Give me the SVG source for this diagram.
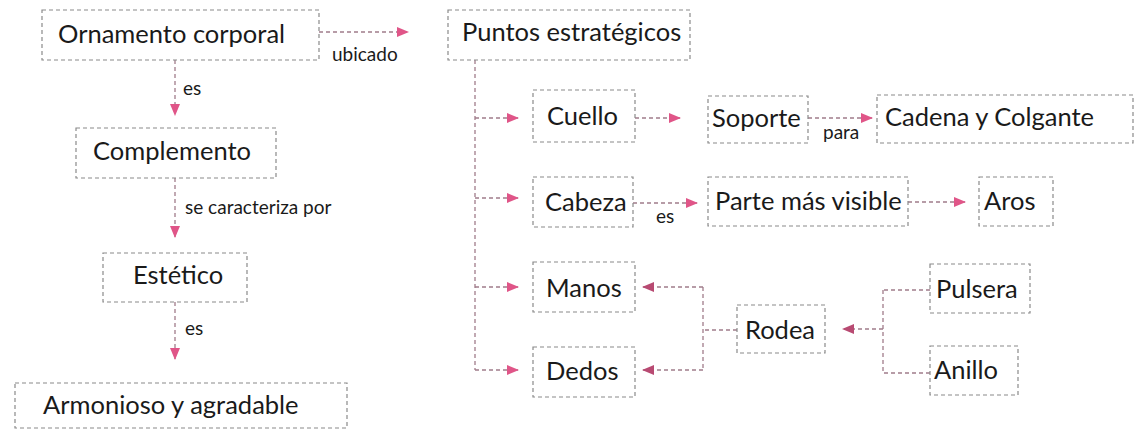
<svg xmlns="http://www.w3.org/2000/svg" width="1134" height="430" viewBox="0 0 1134 430">
<style>
.box{fill:none;stroke:#8a8a8a;stroke-width:1.2;stroke-dasharray:4 3}
.t{font-family:Lato,"Open Sans",sans-serif;font-size:25.5px;fill:#1a1a1a}
.s{font-family:Lato,"Open Sans",sans-serif;font-size:19px;fill:#1a1a1a}
.c{fill:none;stroke:#a07c8a;stroke-width:1.3;stroke-dasharray:4 3}
.ah{fill:#e05588}
.al{fill:#b84a72}
</style>
<defs>
<marker id="ar" markerWidth="12" markerHeight="10" refX="11" refY="5" orient="auto" markerUnits="userSpaceOnUse">
<path d="M0,0 L12,5 L0,10 Z" class="ah"/>
</marker>
<marker id="arl" markerWidth="12" markerHeight="10" refX="11" refY="5" orient="auto" markerUnits="userSpaceOnUse">
<path d="M0,0 L12,5 L0,10 Z" class="al"/>
</marker>
</defs>
<rect width="1134" height="430" fill="#ffffff"/>

<g id="connectors">
<path class="c" d="M319,32 H408" marker-end="url(#ar)"/>
<path class="c" d="M175,60 V115" marker-end="url(#ar)"/>
<path class="c" d="M175,178 V237" marker-end="url(#ar)"/>
<path class="c" d="M175,302 V359" marker-end="url(#ar)"/>
<path class="c" d="M475,60 V370"/>
<path class="c" d="M475,118 H518" marker-end="url(#ar)"/>
<path class="c" d="M475,198 H518" marker-end="url(#ar)"/>
<path class="c" d="M475,287 H518" marker-end="url(#ar)"/>
<path class="c" d="M475,370 H518" marker-end="url(#ar)"/>
<path class="c" d="M635,118 H680" marker-end="url(#ar)"/>
<path class="c" d="M808,118 H872" marker-end="url(#ar)"/>
<path class="c" d="M633,203 H697" marker-end="url(#ar)"/>
<path class="c" d="M908,202 H965" marker-end="url(#ar)"/>
<path class="c" d="M703,287 V370"/>
<path class="c" d="M703,287 H643" marker-end="url(#arl)"/>
<path class="c" d="M703,370 H643" marker-end="url(#arl)"/>
<path class="c" d="M737,330 H703"/>
<path class="c" d="M883,290 V373"/>
<path class="c" d="M930,290 H883"/>
<path class="c" d="M930,373 H883"/>
<path class="c" d="M883,329 H843" marker-end="url(#arl)"/>
<text class="s" x="332" y="61">ubicado</text>
<text class="s" x="183" y="95">es</text>
<text class="s" x="185" y="214">se caracteriza por</text>
<text class="s" x="185" y="335">es</text>
<text class="s" x="823" y="139">para</text>
<text class="s" x="656" y="223">es</text>
</g>

<g id="ornamento"><rect class="box" x="42" y="10" width="277" height="50"/><text class="t" x="58" y="43">Ornamento corporal</text></g>
<g id="complemento"><rect class="box" x="76" y="128" width="200" height="50"/><text class="t" x="93" y="160">Complemento</text></g>
<g id="estetico"><rect class="box" x="103" y="253" width="144" height="49"/><text class="t" x="133" y="284">Estético</text></g>
<g id="armonioso"><rect class="box" x="15" y="383" width="332" height="45"/><text class="t" x="43" y="414">Armonioso y agradable</text></g>
<g id="puntos"><rect class="box" x="448" y="10" width="242" height="50"/><text class="t" x="462" y="41">Puntos estratégicos</text></g>
<g id="cuello"><rect class="box" x="533" y="90" width="102" height="52"/><text class="t" x="547" y="125">Cuello</text></g>
<g id="soporte"><rect class="box" x="708" y="96" width="100" height="47"/><text class="t" x="712" y="127">Soporte</text></g>
<g id="cadena"><rect class="box" x="877" y="95" width="256" height="48"/><text class="t" x="885" y="126">Cadena y Colgante</text></g>
<g id="cabeza"><rect class="box" x="533" y="177" width="100" height="50"/><text class="t" x="545" y="211">Cabeza</text></g>
<g id="parte"><rect class="box" x="708" y="177" width="200" height="49"/><text class="t" x="715" y="210">Parte más visible</text></g>
<g id="aros"><rect class="box" x="979" y="177" width="74" height="49"/><text class="t" x="984" y="210">Aros</text></g>
<g id="manos"><rect class="box" x="533" y="262" width="102" height="50"/><text class="t" x="546" y="297">Manos</text></g>
<g id="dedos"><rect class="box" x="533" y="347" width="102" height="50"/><text class="t" x="546" y="380">Dedos</text></g>
<g id="rodea"><rect class="box" x="737" y="305" width="88" height="48"/><text class="t" x="745" y="339">Rodea</text></g>
<g id="pulsera"><rect class="box" x="930" y="264" width="100" height="49"/><text class="t" x="936" y="298">Pulsera</text></g>
<g id="anillo"><rect class="box" x="930" y="346" width="88" height="49"/><text class="t" x="934" y="379">Anillo</text></g>
</svg>
